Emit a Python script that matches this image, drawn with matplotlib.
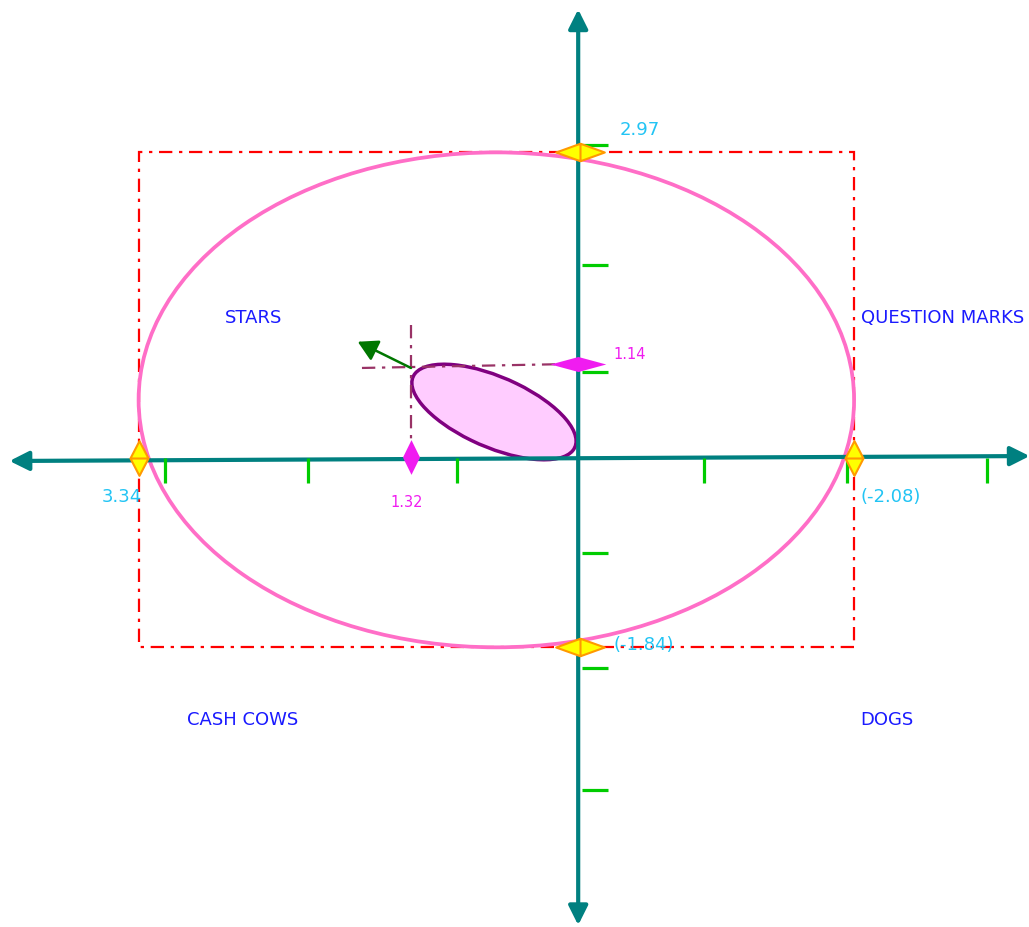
import matplotlib
matplotlib.use('Agg')
import matplotlib.pyplot as plt
from matplotlib.patches import Ellipse, Rectangle, FancyArrowPatch
from matplotlib.path import Path

# ---------------- data ----------------
x_extent = [3.34, -2.08]          # left / right limits of the big ellipse
y_extent = [2.97, -1.84]          # top / bottom limits of the big ellipse
x_extent_labels = ['3.34', '(-2.08)']
y_extent_labels = ['2.97', '(-1.84)']
x_ticks = [3.14, 2.06, 0.93, -0.94, -2.03, -3.09]
y_ticks = [3.04, 1.88, 0.84, -0.92, -2.04, -3.23]
point_x = 1.277
point_y = 0.875
point_labels = ['1.32', '1.14']
small_center = (0.648, 0.447)
small_width = 1.41
small_height = 0.65
small_angle = 32.0
arrow_end = (1.68, 1.13)
quadrant_names = ['STARS', 'QUESTION MARKS', 'CASH COWS', 'DOGS']
quadrant_x = [2.47, -2.13, 2.55, -2.125]
quadrant_y = [1.36, 1.36, -2.55, -2.55]
quadrant_ha = ['center', 'left', 'center', 'left']

# ---------------- figure ----------------
fig = plt.figure(figsize=(10.29, 9.27), dpi=100)
ax = fig.add_axes([0, 0, 1, 1])
ax.set_xlim(4.390, -3.405)
ax.set_ylim(-4.558, 4.451)
ax.axis('off')

teal = '#008080'
cyan = '#22c4f4'
magenta = '#f01cf0'
blue = '#1a1aff'
dash = (0, (6, 3, 1.5, 3))

# red dash-dot bounding rectangle
ax.add_patch(Rectangle((x_extent[1], y_extent[1]), x_extent[0] - x_extent[1],
                       y_extent[0] - y_extent[1], fill=False, edgecolor='#ff0000',
                       lw=1.6, linestyle=dash, zorder=1))

# big ellipse
ax.add_patch(Ellipse(((x_extent[0] + x_extent[1]) / 2, (y_extent[0] + y_extent[1]) / 2),
                     x_extent[0] - x_extent[1], y_extent[0] - y_extent[1],
                     fill=False, edgecolor='#ff6ec7', lw=2.7, zorder=2))

# small ellipse
ax.add_patch(Ellipse(small_center, small_width, small_height, angle=small_angle,
                     facecolor='#ffccff', edgecolor='#800080', lw=2.5, zorder=3))

# axes with arrowheads
ax.add_patch(FancyArrowPatch((4.318, -0.029), (-3.41, 0.019),
                             arrowstyle='<|-|>,head_length=0.58,head_width=0.29',
                             mutation_scale=20, color=teal, lw=3, shrinkA=0, shrinkB=0,
                             zorder=4))
ax.add_patch(FancyArrowPatch((0.01, -4.54), (0.01, 4.36),
                             arrowstyle='<|-|>,head_length=0.58,head_width=0.29',
                             mutation_scale=20, color=teal, lw=3, shrinkA=0, shrinkB=0,
                             zorder=4))

# ticks
ax.vlines(x_ticks, -0.24, 0.0, colors='#00cc00', lw=2.3, zorder=5)
ax.hlines(y_ticks, -0.019, -0.216, colors='#00cc00', lw=2.3, zorder=5)

# crosshair
ax.plot([point_x, point_x], [1.29, -0.02], color='#993366', lw=1.6, linestyle=dash, zorder=5)
ax.plot([1.648, 0.011], [point_y, 0.915], color='#993366', lw=1.6, linestyle=dash, zorder=5)

# green arrow
ax.add_patch(FancyArrowPatch((point_x, point_y), arrow_end,
                             arrowstyle='-|>,head_length=0.8,head_width=0.45',
                             mutation_scale=15, color='#007700', lw=1.8,
                             shrinkA=0, shrinkB=0, zorder=6))

# marker shapes
M, L, C = Path.MOVETO, Path.LINETO, Path.CLOSEPOLY
vert_diamond_line = Path([(0, 1), (0.52, 0), (0, -1), (-0.52, 0), (0, 1), (-0.52, 0), (0.52, 0)],
                         [M, L, L, L, C, M, L])
horz_diamond_line = Path([(1, 0), (0, 0.36), (-1, 0), (0, -0.36), (1, 0), (0, 0.36), (0, -0.36)],
                         [M, L, L, L, C, M, L])
vert_diamond = Path([(0, 1), (0.49, 0), (0, -1), (-0.49, 0), (0, 1)], [M, L, L, L, C])
horz_diamond = Path([(1, 0), (0, 0.27), (-1, 0), (0, -0.27), (1, 0)], [M, L, L, L, C])

# yellow extent markers
ax.plot(x_extent, [0, 0], linestyle='none', marker=vert_diamond_line, markersize=25,
        markerfacecolor='#ffff00', markeredgecolor='#ff9900', markeredgewidth=1.5, zorder=7)
ax.plot([0, 0], y_extent, linestyle='none', marker=horz_diamond_line, markersize=35,
        markerfacecolor='#ffff00', markeredgecolor='#ff9900', markeredgewidth=1.5, zorder=7)

# magenta point markers
ax.plot([point_x], [0.01], linestyle='none', marker=vert_diamond, markersize=25,
        markerfacecolor=magenta, markeredgecolor='none', zorder=7)
ax.plot([0.011], [0.913], linestyle='none', marker=horz_diamond, markersize=40,
        markerfacecolor=magenta, markeredgecolor='none', zorder=7)

# extent labels
ax.text(3.466, -0.379, x_extent_labels[0], color=cyan, fontsize=13, ha='center', va='center', zorder=8)
ax.text(-2.125, -0.379, x_extent_labels[1], color=cyan, fontsize=13, ha='left', va='center', zorder=8)
ax.text(-0.307, 3.19, y_extent_labels[0], color=cyan, fontsize=13, ha='left', va='center', zorder=8)
ax.text(-0.254, -1.817, y_extent_labels[1], color=cyan, fontsize=13, ha='left', va='center', zorder=8)

# point labels
ax.text(1.307, -0.428, point_labels[0], color=magenta, fontsize=10.5, ha='center', va='center', zorder=8)
ax.text(-0.254, 1.01, point_labels[1], color=magenta, fontsize=10.5, ha='left', va='center', zorder=8)

# quadrant names
for name, qx, qy, ha in zip(quadrant_names, quadrant_x, quadrant_y, quadrant_ha):
    ax.text(qx, qy, name, color=blue, fontsize=13, ha=ha, va='center', zorder=8)

fig.savefig('out.png', dpi=100)
